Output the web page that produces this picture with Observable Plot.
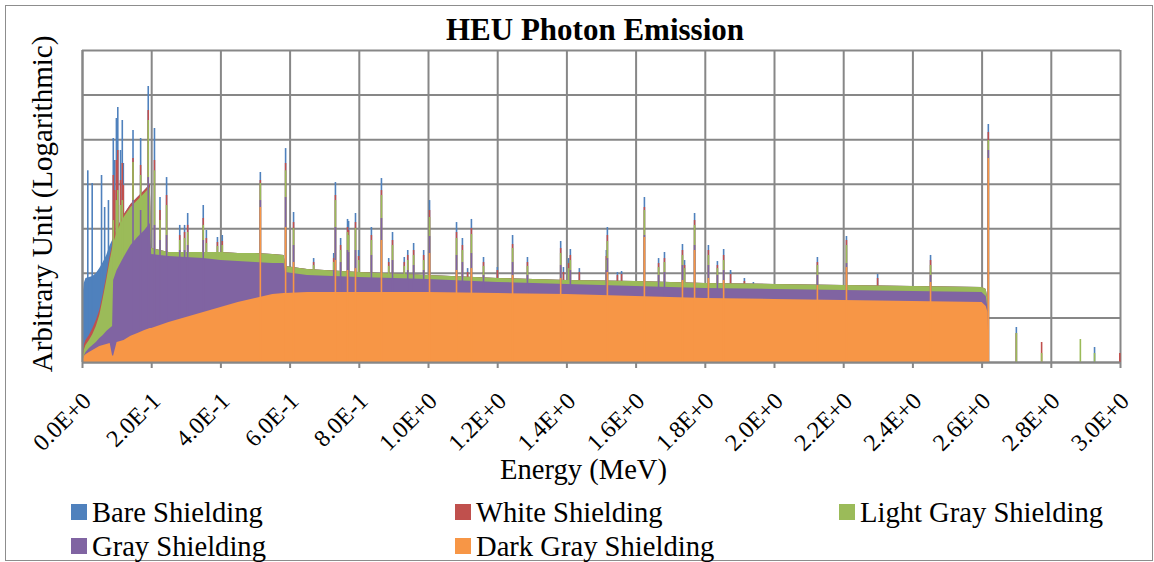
<!DOCTYPE html>
<html>
<head>
<meta charset="utf-8">
<script src="https://cdn.jsdelivr.net/npm/d3@7"></script>
<script src="https://cdn.jsdelivr.net/npm/@observablehq/plot@0.6"></script>
<style>
  body { margin: 0; background: #fff; }
  #wrap { position: relative; width: 1154px; height: 562px; overflow: hidden; background: #fff;
          font-family: "Liberation Serif", "Times New Roman", serif; color: #000; }
  #frame { position: absolute; left: 5px; top: 5px; width: 1148px; height: 556px; box-sizing: border-box;
           border: 1.5px solid #8d8d8d; }
  #chart { position: absolute; left: 0; top: 0; }
  .t { position: absolute; white-space: nowrap; }
  #title { left: 0; width: 1190px; top: 14px; text-align: center; font-weight: bold; font-size: 31px; line-height: 31px; }
  #xlab { left: 0; width: 1167px; top: 456px; text-align: center; font-size: 28.6px; line-height: 28.6px; }
  #ylab { left: 42px; top: 203.5px; font-size: 29px; line-height: 29px; transform: translate(-50%, -50%) rotate(-90deg); }
  .lg { position: absolute; font-size: 28.6px; line-height: 28.6px; white-space: nowrap; }
  .sw { position: absolute; width: 16px; height: 16px; }
</style>
</head>
<body>
<div id="wrap">
  <div id="chart"></div>
  <div id="frame"></div>
  <div class="t" id="title">HEU Photon Emission</div>
  <div class="t" id="ylab">Arbitrary Unit (Logarithmic)</div>
  <div class="t" id="xlab">Energy (MeV)</div>
  <div id="legend"></div>
</div>
<script>
// ---------- data (energies in MeV, intensities in arbitrary units) ----------
const seriesNames = ["Bare Shielding", "White Shielding", "Light Gray Shielding", "Gray Shielding", "Dark Gray Shielding"];
const seriesColors = ["#4F81BD", "#C0504D", "#9BBB59", "#8064A2", "#F79646"];

const xTicks = [0, 0.2, 0.4, 0.6, 0.8, 1.0, 1.2, 1.4, 1.6, 1.8, 2.0, 2.2, 2.4, 2.6, 2.8, 3.0];
const xTickLabels = ["0.0E+0", "2.0E-1", "4.0E-1", "6.0E-1", "8.0E-1", "1.0E+0", "1.2E+0", "1.4E+0",
                     "1.6E+0", "1.8E+0", "2.0E+0", "2.2E+0", "2.4E+0", "2.6E+0", "2.8E+0", "3.0E+0"];
const yTicks = [1, 1e1, 1e2, 1e3, 1e4, 1e5, 1e6, 1e7];

// continuum energies (shared by all series)
const contE = [0, 0.005, 0.01, 0.02, 0.03, 0.04, 0.05, 0.06, 0.07, 0.08,
               0.087, 0.09, 0.1, 0.12, 0.14, 0.16, 0.18, 0.196, 0.2,
               0.25, 0.3, 0.35, 0.4, 0.45, 0.5, 0.55, 0.583, 0.587,
               0.65, 0.8, 1.0, 1.2, 1.4, 1.6, 1.8, 2.0, 2.2, 2.4, 2.6,
               2.612, 2.617, 2.621];

const bareCont  = [24.6, 59.2, 76.7, 80.7, 85.1, 99.3, 128.5, 175, 252, 422,
                   546, 605, 964, 2030, 3500, 5050, 7230, 9860, 361,
                   294, 294, 294, 294, 279, 279, 265, 252, 143,
                   122, 104.5, 89.6, 76.7, 69.2, 65.7, 59.2, 56.2, 53.4, 50.7, 48.2,
                   43.4, 24.6, 1];
const whiteCont = [1, 2.41, 3.12, 4.04, 5.79, 8.75, 14.7, 33.6, 85.1, 239,
                   422, 546, 964, 2030, 3500, 5050, 7230, 9860, 361,
                   294, 294, 294, 294, 279, 279, 265, 252, 143,
                   122, 104.5, 89.6, 76.7, 69.2, 65.7, 59.2, 56.2, 53.4, 50.7, 48.2,
                   43.4, 24.6, 1];
const lightCont = [1, 1.86, 2.41, 3.12, 4.25, 6.42, 11.3, 27.3, 69.2, 194,
                   361, 468, 826, 1790, 3000, 4300, 6200, 8440, 361,
                   294, 294, 294, 294, 279, 279, 265, 252, 143,
                   122, 104.5, 89.6, 76.7, 69.2, 65.7, 59.2, 56.2, 53.4, 50.7, 48.2,
                   43.4, 24.6, 1];
const grayCont  = [1, 1.36, 1.68, 2.06, 2.41, 2.81, 3.45, 4.04, 4.96, 5.79,
                   6.42, 69, 116, 227, 422, 638, 916, 1315, 265,
                   239, 227, 215, 194, 184, 175, 166, 166, 104.5,
                   89.6, 80.7, 72.8, 62.4, 56.2, 50.7, 45.7, 43.4, 41.2, 39.2, 37.2,
                   30.3, 16.3, 1];
const darkCont  = [1, 1.36, 1.5, 1.68, 1.86, 2.06, 2.3, 2.41, 2.55, 2.67,
                   1.4, 1.4, 2.81, 3.12, 3.9, 4.5, 5.22, 5.79, 5.79,
                   7.9, 10.2, 13.2, 17.1, 22.2, 27.3, 33.6, 35.3, 35.3,
                   37.2, 37.2, 37.2, 35.3, 33.6, 30.3, 27.3, 25.9, 24.6, 23.4, 22.2,
                   18, 13.2, 1];

// emission lines (peak heights per series; null = no visible line)
const peakE = [0.0153, 0.028, 0.055, 0.064, 0.075, 0.089, 0.093, 0.098, 0.102, 0.110,
               0.115, 0.118, 0.146, 0.168, 0.190, 0.208, 0.224, 0.243, 0.281, 0.295,
               0.304, 0.349, 0.358, 0.39, 0.404, 0.514, 0.587, 0.61, 0.668, 0.726,
               0.731, 0.746, 0.766, 0.769, 0.789, 0.798, 0.835, 0.864, 0.885, 0.896,
               0.93, 0.94, 0.957, 0.986, 1.003, 1.081, 1.098, 1.113, 1.124, 1.159,
               1.199, 1.243, 1.286, 1.382, 1.39, 1.405, 1.41, 1.436, 1.514, 1.517,
               1.546, 1.558, 1.624, 1.665, 1.682, 1.734, 1.74, 1.769, 1.809, 1.835,
               1.853, 1.873, 1.913, 1.939, 2.124, 2.208, 2.298, 2.451, 2.618, 2.699,
               2.772, 2.884, 2.925, 2.998];
const peakBare  = [2.0e4, 1.04e4, 1.57e4, 3.0e3, 4.3e3, 1.06e5, 3.4e4, 2.98e5, 5.26e5, 5.7e4,
                   2.69e5, 2.92e4, 1.6e5, 1.06e5, 1.56e6, 1.78e5, 5.03e3, 1.41e4, 1.19e3, 1.19e3,
                   2.2e3, 3.33e3, 914, 637, 706, 1.83e4, 6.3e4, 2.32e3, 215, 279,
                   1.09e4, 606, 1.62e3, 1.46e3, 2.2e3, 326, 1.07e3, 1.34e4, 215, 825,
                   227, 326, 468, 326, 4.3e3, 1.38e3, 606, 128, 1.62e3, 227,
                   135, 706, 227, 519, 135, 215, 343, 128, 326, 1.07e3,
                   104.5, 110, 5.03e3, 215, 294, 444, 194, 2.2e3, 422, 184,
                   343, 116, 76.7, 62.4, 227, 671, 94.3, 252, 2.19e5, 6.1,
                   null, null, 2.17, null];
const peakWhite = [null, null, null, null, null, 1.57e4, 7.2e3, 3.4e4, 5.7e4, 1.21e4,
                   2.92e4, 9.35e3, 3.78e4, 2.63e4, 4.5e5, 3.4e4, 2.57e3, 5.58e3, 706, 825,
                   1.19e3, 1.7e3, 606, 493, 519, 1.21e4, 2.92e4, 1.38e3, 175, 215,
                   5.58e3, 422, 1.07e3, 914, 1.38e3, 239, 706, 7.2e3, 175, 546,
                   175, 252, 326, 252, 2.57e3, 825, 422, 104.5, 1.01e3, 175,
                   116, 444, 175, 361, 104.5, 166, 252, 104.5, 239, 706,
                   89.6, 94.3, 3.0e3, 166, 215, 326, 150, 1.53e3, 326, 150,
                   252, 94.3, 65.7, 56.2, 175, 546, 76.7, 194, 1.45e5, 4.47,
                   2.81, null, null, 1.59];
const peakLight = [null, null, null, null, null, 1.53e3, null, 4.3e3, 7.2e3, 3.33e3,
                   4.3e3, null, 3.07e4, 1.57e4, 2.69e5, 2.0e4, 1.53e3, 3.33e3, 546, 606,
                   825, 1.19e3, 468, 401, 422, 1.04e4, 2.0e4, 1.01e3, 150, 175,
                   4.3e3, 326, 825, 706, 1.01e3, 194, 546, 5.58e3, 143, 422,
                   143, 194, 252, 194, 1.79e3, 606, 326, null, 744, 143,
                   null, 361, 143, 279, null, 128, 194, null, 194, 519,
                   null, null, 2.57e3, 135, 175, 252, 128, 1.19e3, 252, 128,
                   194, null, null, null, 150, 422, null, 150, 9.55e4, 4.47,
                   1.59, 3.28, 1.59, null];
const peakGray  = [null, null, null, null, null, null, null, null, null, null,
                   null, null, 4.3e3, 2.57e3, 1.41e4, 1.19e3, 546, 706, 326, 326,
                   422, 546, null, null, null, 4.3e3, 5.03e3, 422, null, 116,
                   1.07e3, 175, 326, 294, 326, null, 252, 1.7e3, null, 194,
                   null, 116, 150, 116, 671, 252, 175, null, 279, 89.6,
                   null, 175, 89.6, 150, null, null, 116, null, 116, 215,
                   null, null, 706, 89.6, 104.5, 150, null, 422, 150, 89.6,
                   116, null, null, null, 89.6, 166, null, 89.6, 5.7e4, null,
                   null, null, null, null];
const peakDark  = [null, null, null, null, null, null, null, null, null, null,
                   null, null, null, null, null, null, null, null, null, null,
                   null, null, null, null, null, 3.0e3, 1.07e3, 175, null, null,
                   194, null, 116, null, 128, null, null, 546, null, null,
                   null, null, null, null, 279, 116, null, null, 128, null,
                   null, 89.6, null, 76.7, null, null, null, null, null, 104.5,
                   null, null, 637, null, null, 69, null, 326, 76.7, null,
                   69, null, null, null, 53.4, 135, null, 62.4, 3.78e4, null,
                   null, null, null, null];

// ---------- build tables ----------
const contBySeries = [bareCont, whiteCont, lightCont, grayCont, darkCont];
const peaksBySeries = [peakBare, peakWhite, peakLight, peakGray, peakDark];

const seriesMarks = seriesNames.flatMap((name, si) => {
  const cont = contE.map((e, i) => ({e, v: contBySeries[si][i], base: 1}));
  const lines = peakE.map((e, i) => ({e, v: peaksBySeries[si][i], base: 1})).filter(d => d.v != null);
  return [
    Plot.areaY(cont, {x: "e", y1: "base", y2: "v", fill: seriesColors[si], curve: "linear"}),
    Plot.ruleX(lines, {x: "e", y1: "base", y2: "v", stroke: seriesColors[si], strokeWidth: 1.6})
  ];
});

const gridColor = "#878787";

const chart = Plot.plot({
  width: 1154,
  height: 500,
  marginLeft: 82,
  marginRight: 34,
  marginTop: 50,
  marginBottom: 138,
  style: {background: "transparent", fontFamily: "'Liberation Serif', 'Times New Roman', serif", color: "#000", overflow: "visible"},
  x: {domain: [0, 3], axis: null, label: null},
  y: {type: "log", domain: [1, 1e7], axis: null, label: null},
  marks: [
    Plot.gridX(xTicks, {stroke: gridColor, strokeOpacity: 1, strokeWidth: 2}),
    Plot.gridY(yTicks, {stroke: gridColor, strokeOpacity: 1, strokeWidth: 2}),
    ...seriesMarks,
    Plot.ruleY([1], {stroke: gridColor, strokeWidth: 2}),
    Plot.ruleX([0], {stroke: gridColor, strokeWidth: 2}),
    Plot.axisX(xTicks, {tickSize: 6, tickFormat: () => "", label: null, stroke: gridColor, strokeWidth: 2}),
    Plot.text(xTicks, {
      x: d => d, frameAnchor: "bottom", text: (d, i) => xTickLabels[i],
      rotate: -45, textAnchor: "end", dx: 10, dy: 40, fontSize: 24, fill: "#000"
    })
  ]
});
document.getElementById("chart").appendChild(chart);

// ---------- legend ----------
const legendPos = [[71, 504], [455, 504], [839, 504], [71, 538], [455, 538]];
const legend = document.getElementById("legend");
seriesNames.forEach((name, i) => {
  const [x, y] = legendPos[i];
  const sw = document.createElement("div");
  sw.className = "sw";
  sw.style.left = x + "px"; sw.style.top = y + "px"; sw.style.background = seriesColors[i];
  const tx = document.createElement("div");
  tx.className = "lg";
  tx.style.left = (x + 21) + "px"; tx.style.top = (y - 5) + "px";
  tx.textContent = name;
  legend.appendChild(sw); legend.appendChild(tx);
});
</script>
</body>
</html>
